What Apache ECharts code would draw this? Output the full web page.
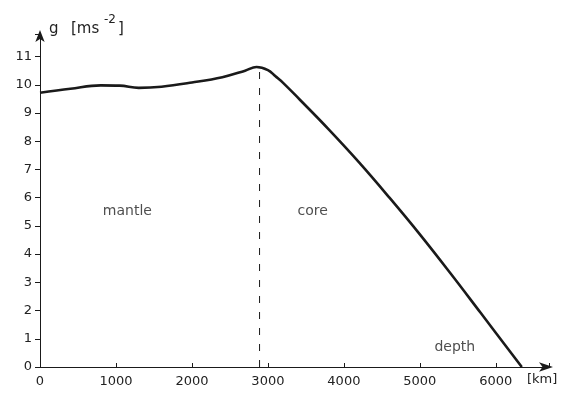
<!DOCTYPE html>
<html>
<head>
<meta charset="utf-8">
<script src="https://cdn.jsdelivr.net/npm/echarts@6/dist/echarts.min.js"></script>
<style>
  html, body { margin: 0; padding: 0; background: #fff; }
  #chart { width: 564px; height: 394px; }
</style>
</head>
<body>
<div id="chart"></div>
<script>
// depth below surface [km] and gravity g [m s^-2]
const depthKm = [0, 400, 800, 1050, 1300, 1600, 2000, 2400, 2700, 2850, 3000, 3100, 3200, 3421, 3800, 4200, 4600, 5000, 5400, 5800, 6342];
const gravity = [9.72, 9.86, 9.98, 9.97, 9.89, 9.93, 10.08, 10.27, 10.5, 10.63, 10.52, 10.3, 10.07, 9.47, 8.42, 7.25, 6.0, 4.7, 3.33, 1.92, 0];
const cmbDepth = 2890;
const cmbTop = 10.55;
const regionLabels = ['mantle', 'core', 'depth'];

const ink = '#1a1a1a';
const font = 'DejaVu Sans';

const chart = echarts.init(document.getElementById('chart'));
chart.setOption({
  animation: false,
  backgroundColor: '#fff',
  grid: { left: 40, right: 15, top: 34, bottom: 27 },
  xAxis: {
    type: 'value', min: 0, max: 6700, interval: 1000,
    axisLine: { lineStyle: { color: ink, width: 1 }, symbol: ['none', 'arrow'], symbolSize: [7, 14], symbolOffset: [0, 4] },
    axisTick: { inside: true, length: 4, lineStyle: { color: ink } },
    axisLabel: {
      color: '#222', fontFamily: font, fontSize: 13, margin: 8,
      formatter: v => (v % 1000 === 0 && v <= 6000) ? String(v) : ''
    },
    splitLine: { show: false }
  },
  yAxis: {
    type: 'value', min: 0, max: 11.8, interval: 1,
    axisLine: { show: true, lineStyle: { color: ink, width: 1 }, symbol: ['none', 'arrow'], symbolSize: [7, 12], symbolOffset: [0, 4] },
    axisTick: { show: true, length: 5, lineStyle: { color: ink } },
    axisLabel: {
      color: '#222', fontFamily: font, fontSize: 13, margin: 8,
      formatter: v => (Number.isInteger(v) && v <= 11) ? String(v) : ''
    },
    splitLine: { show: false }
  },
  series: [
    {
      type: 'line',
      data: depthKm.map((d, i) => [d, gravity[i]]),
      smooth: 0.4,
      showSymbol: false,
      lineStyle: { color: ink, width: 2.6 }
    },
    {
      type: 'line',
      data: [[cmbDepth, 0], [cmbDepth, cmbTop]],
      showSymbol: false,
      lineStyle: { color: ink, width: 1, type: [7, 9] }
    },
    {
      type: 'scatter',
      symbolSize: 0,
      data: [[1150, 5.5], [3590, 5.5], [5460, 0.7]],
      label: {
        show: true, position: 'inside', color: '#222', fontFamily: font, fontSize: 14,
        formatter: p => regionLabels[p.dataIndex]
      }
    }
  ],
  graphic: [
    { type: 'text', left: 49, top: 22, style: { text: 'g', fontFamily: font, fontSize: 15, fill: '#222' } },
    { type: 'text', left: 71, top: 22, style: { text: '[ms', fontFamily: font, fontSize: 15, fill: '#222' } },
    { type: 'text', left: 104, top: 14, style: { text: '-2', fontFamily: font, fontSize: 12, fill: '#222' } },
    { type: 'text', left: 118, top: 22, style: { text: ']', fontFamily: font, fontSize: 15, fill: '#222' } },
    { type: 'text', left: 527, top: 373, style: { text: '[km]', fontFamily: font, fontSize: 13, fill: '#222' } }
  ]
});
</script>
</body>
</html>
